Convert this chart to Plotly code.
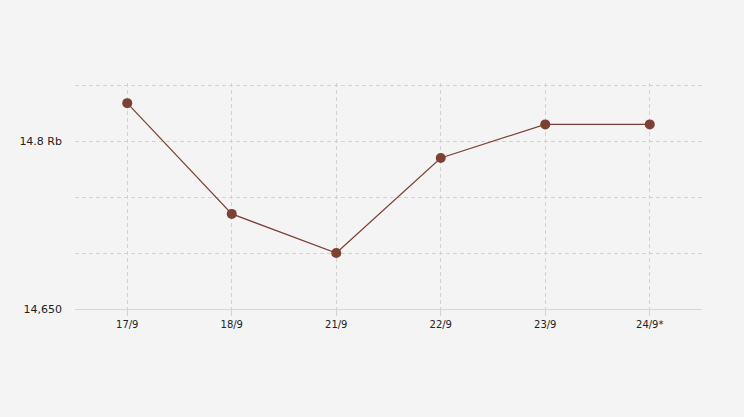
import plotly.graph_objects as go

dates = ["17/9", "18/9", "21/9", "22/9", "23/9", "24/9*"]
prices = [14834, 14735, 14700, 14785, 14815, 14815]

y_tickvals = [14650, 14700, 14750, 14800, 14850]
y_ticktext = ["14,650", "", "", "14.8 Rb", ""]

fig = go.Figure()
fig.add_trace(go.Scatter(
    x=dates, y=prices, mode="lines+markers",
    line=dict(color="#7d4034", width=1.2),
    marker=dict(color="#7d4034", size=10),
    hoverinfo="x+y",
))

grid = "#d2d2d2"
fig.update_layout(
    width=744, height=417,
    paper_bgcolor="#f4f4f4", plot_bgcolor="#f4f4f4",
    margin=dict(l=75, r=42, t=83, b=108),
    showlegend=False,
    font=dict(family="DejaVu Sans", size=11, color="#222"),
    xaxis=dict(
        type="category", range=[-0.5, 5.5],
        showgrid=True, gridcolor=grid, griddash="4px,3px", gridwidth=1,
        showline=True, linecolor="#d6d6d6", linewidth=1,
        ticks="outside", ticklen=6, tickcolor=grid,
        tickfont=dict(size=10), zeroline=False,
    ),
    yaxis=dict(
        range=[14650, 14852],
        tickvals=y_tickvals, ticktext=y_ticktext,
        showgrid=True, gridcolor=grid, griddash="4px,3px", gridwidth=1,
        showline=False, zeroline=False, ticks="",
        tickfont=dict(size=11), ticklabelstandoff=12,
    ),
)

fig.write_html("out.html", config={"displayModeBar": False},
               post_script="document.body.style.margin='0';")
